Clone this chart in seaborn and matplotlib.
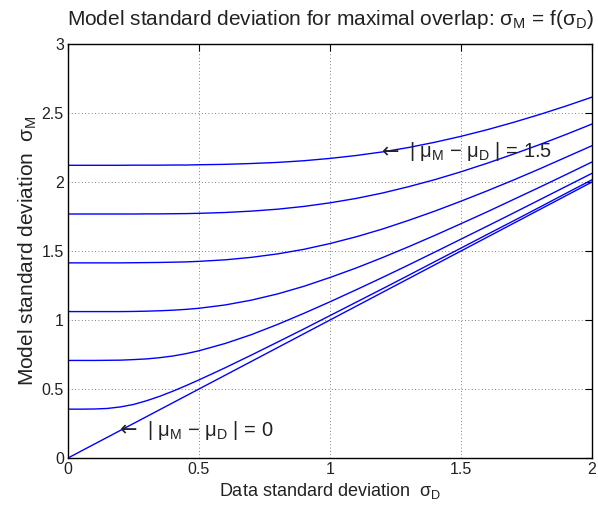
import matplotlib
matplotlib.use("Agg")
import matplotlib.pyplot as plt
import numpy as np
import pandas as pd
import seaborn as sns

# Data standard deviation (x) and model standard deviation (y) for each mean offset
sigma_d = [0.0, 0.05, 0.1, 0.15, 0.2, 0.25, 0.3, 0.35, 0.4, 0.45, 0.5,
           0.6, 0.7, 0.8, 0.9, 1.0, 1.1, 1.2, 1.3, 1.4, 1.5, 1.6, 1.7, 1.8, 1.9, 2.0]

mean_offsets = [0.0, 0.25, 0.5, 0.75, 1.0, 1.25, 1.5]

sigma_m_000 = [0.0, 0.05, 0.1, 0.15, 0.2, 0.25, 0.3, 0.35, 0.4, 0.45, 0.5,
               0.6, 0.7, 0.8, 0.9, 1.0, 1.1, 1.2, 1.3, 1.4, 1.5, 1.6, 1.7, 1.8, 1.9, 2.0]
sigma_m_025 = [0.354, 0.354, 0.355, 0.359, 0.370, 0.388, 0.415, 0.447, 0.484, 0.524, 0.566,
               0.654, 0.746, 0.840, 0.935, 1.032, 1.129, 1.226, 1.324, 1.423, 1.521,
               1.620, 1.718, 1.817, 1.917, 2.016]
sigma_m_050 = [0.707, 0.707, 0.707, 0.708, 0.709, 0.713, 0.718, 0.727, 0.739, 0.756, 0.777,
               0.830, 0.894, 0.968, 1.048, 1.132, 1.219, 1.308, 1.399, 1.492, 1.586,
               1.680, 1.775, 1.871, 1.967, 2.063]
sigma_m_075 = [1.061, 1.061, 1.061, 1.061, 1.061, 1.062, 1.064, 1.067, 1.071, 1.077, 1.085,
               1.109, 1.144, 1.189, 1.244, 1.308, 1.377, 1.452, 1.531, 1.613, 1.698,
               1.784, 1.873, 1.962, 2.053, 2.145]
sigma_m_100 = [1.414, 1.414, 1.414, 1.414, 1.414, 1.415, 1.416, 1.417, 1.419, 1.421, 1.425,
               1.436, 1.454, 1.479, 1.512, 1.554, 1.603, 1.659, 1.722, 1.789, 1.861,
               1.936, 2.014, 2.095, 2.179, 2.263]
sigma_m_125 = [1.768, 1.768, 1.768, 1.768, 1.768, 1.768, 1.769, 1.769, 1.770, 1.771, 1.773,
               1.779, 1.789, 1.803, 1.823, 1.849, 1.881, 1.920, 1.966, 2.017, 2.074,
               2.136, 2.202, 2.271, 2.344, 2.420]
sigma_m_150 = [2.121, 2.121, 2.121, 2.121, 2.121, 2.122, 2.122, 2.122, 2.123, 2.123, 2.125,
               2.128, 2.134, 2.142, 2.154, 2.171, 2.192, 2.218, 2.250, 2.288, 2.331,
               2.379, 2.432, 2.489, 2.550, 2.615]

curves = [sigma_m_000, sigma_m_025, sigma_m_050, sigma_m_075,
          sigma_m_100, sigma_m_125, sigma_m_150]

x_ticks = [0, 0.5, 1, 1.5, 2]
x_tick_labels = ["0", "0.5", "1", "1.5", "2"]
y_ticks = [0, 0.5, 1, 1.5, 2, 2.5, 3]
y_tick_labels = ["0", "0.5", "1", "1.5", "2", "2.5", "3"]

# Curve labels: anchor point (sigma_D, sigma_M) and offset value
label_points = [(1.2, 2.218, "1.5"), (0.2, 0.2, "0")]

rows = []
for off, ys in zip(mean_offsets, curves):
    for xv, yv in zip(sigma_d, ys):
        rows.append({"sigma_d": xv, "sigma_m": yv, "offset": off})
df = pd.DataFrame(rows)

sns.set_style("white")
plt.rcParams["font.family"] = ["Liberation Sans", "DejaVu Sans"]
plt.rcParams["mathtext.fontset"] = "custom"
plt.rcParams["mathtext.rm"] = "Liberation Sans"
plt.rcParams["mathtext.it"] = "Liberation Sans"
plt.rcParams["mathtext.bf"] = "Liberation Sans:bold"
plt.rcParams["mathtext.sf"] = "Liberation Sans"
plt.rcParams["mathtext.fallback"] = "cm"

fig = plt.figure(figsize=(5.98, 5.14), dpi=100)
ax = fig.add_axes([68 / 598, 56 / 514, 524 / 598, 414 / 514])

sns.lineplot(data=df, x="sigma_d", y="sigma_m", hue="offset",
             palette=["#0000ff"] * len(mean_offsets), estimator=None,
             sort=False, legend=False, linewidth=1.0, ax=ax)

ax.set_xlim(0, 2)
ax.set_ylim(0, 3)
ax.set_xticks(x_ticks)
ax.set_xticklabels(x_tick_labels)
ax.set_yticks(y_ticks)
ax.set_yticklabels(y_tick_labels)

ax.grid(True, linestyle=(0, (1, 3)), color="#555555", linewidth=0.6)
for s in ax.spines.values():
    s.set_visible(True)
    s.set_color("black")
    s.set_linewidth(1.0)
ax.tick_params(direction="in", length=5, width=0.8, top=True, right=True,
               labelsize=11.5, colors="black", labelcolor="#222222", pad=3)

ax.set_xlabel(r"Data standard deviation  σ$_\mathregular{D}$", fontsize=13,
              color="#222222", labelpad=3)
ax.set_ylabel(r"Model standard deviation  σ$_\mathregular{M}$", fontsize=15,
              color="#222222", labelpad=2)
ax.set_title(r"Model standard deviation for maximal overlap: σ$_\mathregular{M}$ = f(σ$_\mathregular{D}$)",
             fontsize=15, color="#222222", pad=14)

for xv, yv, val in label_points:
    ax.text(xv, yv, "←", family="DejaVu Sans", fontsize=15, color="#222222",
            ha="left", va="center")
    ax.annotate(r"| μ$_\mathregular{M}$ − μ$_\mathregular{D}$ | = " + val,
                xy=(xv, yv), xytext=(19, 0), textcoords="offset points",
                fontsize=14.5, color="#222222", ha="left", va="center")

fig.savefig("out.png", dpi=100, facecolor="white")
